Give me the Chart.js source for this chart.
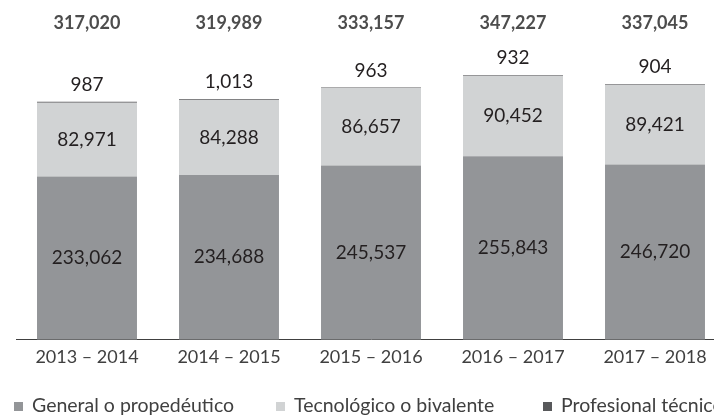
<!DOCTYPE html>
<html lang="es">
<head>
<meta charset="utf-8">
<title>Matrícula por modelo educativo</title>
<script src="https://cdn.jsdelivr.net/npm/chart.js@4.4.1/dist/chart.umd.min.js"></script>
<style>
  html, body { margin: 0; padding: 0; background: #fff; overflow: hidden; }
  #wrap { width: 740px; height: 419px; }
</style>
</head>
<body>
<div id="wrap"><canvas id="matricula" width="740" height="419"></canvas></div>
<script>
// Ciclos escolares
const ciclos = ['2013 – 2014', '2014 – 2015', '2015 – 2016', '2016 – 2017', '2017 – 2018'];

// Alumnos por modelo
const general = [233062, 234688, 245537, 255843, 246720];
const tecnologico = [82971, 84288, 86657, 90452, 89421];
const profesional = [987, 1013, 963, 932, 904];

const nombres = ['General o propedéutico', 'Tecnológico o bivalente', 'Profesional técnico'];
const colores = ['#939598', '#d1d3d4', '#58595b'];

const fmt = n => n.toLocaleString('en-US');
const totales = ciclos.map((_, i) => general[i] + tecnologico[i] + profesional[i]);

// Etiquetas de valores y totales encima de cada barra
const etiquetasPlugin = {
    id: 'etiquetas',
    afterDatasetsDraw(chart) {
        const ctx = chart.ctx;
        const fondo = chart.chartArea.bottom;
        ctx.save();
        ctx.textAlign = 'center';
        ctx.textBaseline = 'middle';

        chart.data.datasets.forEach((ds, d) => {
            const meta = chart.getDatasetMeta(d);
            meta.data.forEach((bar, i) => {
                ctx.fillStyle = '#231f20';
                ctx.font = '19px Lato';
                if (d < 2) {
                    // centro de la parte visible del segmento
                    const base = Math.min(bar.base, fondo);
                    ctx.fillText(fmt(ds.data[i]), bar.x, (bar.y + base) / 2);
                } else {
                    ctx.fillText(fmt(ds.data[i]), bar.x, bar.y - 17);
                }
            });
        });

        // totales
        const meta = chart.getDatasetMeta(0);
        ctx.fillStyle = '#4d4d4d';
        ctx.font = 'bold 18px Lato';
        meta.data.forEach((bar, i) => {
            ctx.fillText(fmt(totales[i]), bar.x, 23);
        });
        ctx.restore();
    }
};

// Leyenda inferior
const leyendaPlugin = {
    id: 'leyenda',
    afterDraw(chart) {
        const ctx = chart.ctx;
        const xs = [14, 276, 543];
        ctx.save();
        ctx.font = '19.5px Lato';
        ctx.textBaseline = 'middle';
        ctx.textAlign = 'left';
        chart.data.datasets.forEach((ds, d) => {
            ctx.fillStyle = ds.backgroundColor;
            ctx.fillRect(xs[d], 402, 9, 9);
            ctx.fillStyle = '#404040';
            ctx.fillText(ds.label, xs[d] + 18, 406);
        });
        ctx.restore();
    }
};

new Chart(document.getElementById('matricula'), {
    type: 'bar',
    data: {
        labels: ciclos,
        datasets: [
            { label: nombres[0], data: general, backgroundColor: colores[0] },
            { label: nombres[1], data: tecnologico, backgroundColor: colores[1] },
            { label: nombres[2], data: profesional, backgroundColor: colores[2] }
        ]
    },
    options: {
        responsive: false,
        animation: false,
        layout: { padding: { left: 16, right: 14, top: 28, bottom: 44 } },
        datasets: {
            bar: { categoryPercentage: 1, barPercentage: 0.704, borderWidth: 0 }
        },
        plugins: {
            legend: { display: false },
            tooltip: { enabled: false }
        },
        scales: {
            x: {
                stacked: true,
                grid: { display: false, drawTicks: false },
                border: { display: true, color: '#404040', width: 1 },
                ticks: {
                    color: '#404040',
                    font: { family: 'Lato', size: 18 },
                    padding: 7,
                    maxRotation: 0,
                    autoSkip: false
                }
            },
            y: {
                stacked: true,
                display: false,
                min: 50000,
                max: 400000
            }
        }
    },
    plugins: [etiquetasPlugin, leyendaPlugin]
});
</script>
</body>
</html>
